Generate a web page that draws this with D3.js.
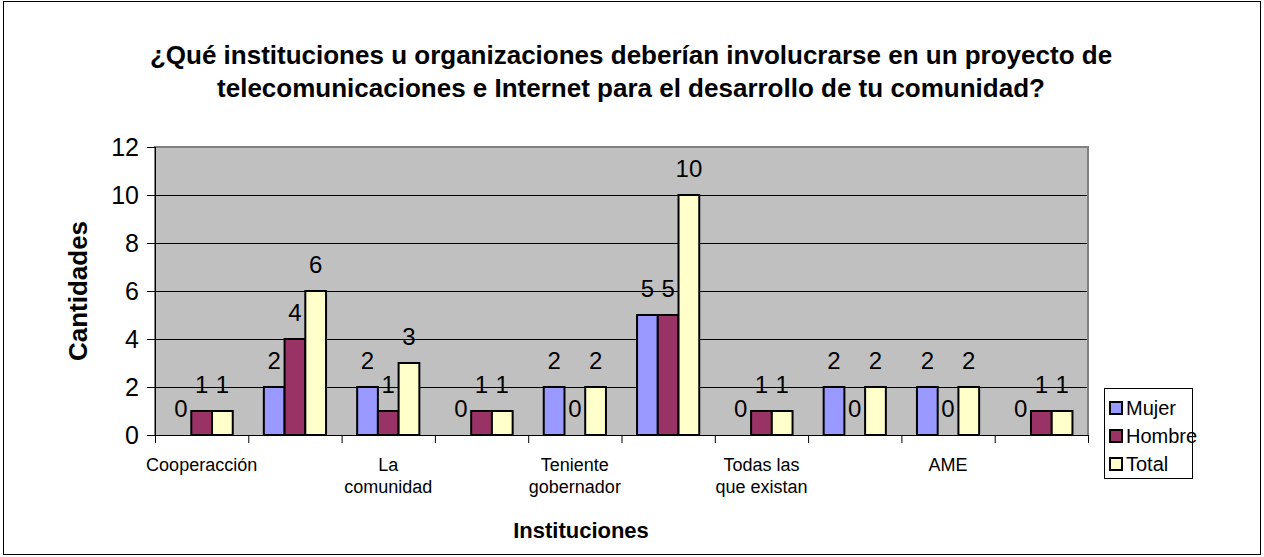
<!DOCTYPE html>
<html>
<head>
<meta charset="utf-8">
<script src="https://cdn.jsdelivr.net/npm/d3@7"></script>
<style>
  body { margin: 0; background: #fff; }
  svg text { font-family: Arial, "Liberation Sans", sans-serif; fill: #000; }
</style>
</head>
<body>
<div id="chart"></div>
<script>
// categories (only every other one gets a visible label, like the original)
var categories = ["Cooperacción", "", "La\ncomunidad", "", "Teniente\ngobernador", "",
  "Todas las\nque existan", "", "AME", ""];
var series = ["Mujer", "Hombre", "Total"];
var mujer = [0, 2, 2, 0, 2, 5, 0, 2, 2, 0];
var hombre = [1, 4, 1, 1, 0, 5, 1, 0, 0, 1];
var total = [1, 6, 3, 1, 2, 10, 1, 2, 2, 1];
var yTicks = [0, 2, 4, 6, 8, 10, 12];
var colors = ["#9999FF", "#993366", "#FFFFCC"];

var w = 1264, h = 557;
var m = { left: 155, right: 1088, top: 147, bottom: 435 };

var svg = d3.select("#chart").append("svg")
  .attr("width", w)
  .attr("height", h);

// chart border
svg.append("rect")
  .attr("x", 3.5).attr("y", 1.5)
  .attr("width", 1257).attr("height", 553)
  .attr("fill", "#fff")
  .attr("stroke", "#000");

var x = d3.scaleBand()
  .domain(d3.range(categories.length))
  .range([m.left, m.right]);

var x1 = d3.scaleBand()
  .domain(series)
  .range([0, x.bandwidth()])
  .paddingOuter(0.75);

var y = d3.scaleLinear()
  .domain([0, 12])
  .range([m.bottom, m.top]);

// plot area
svg.append("rect")
  .attr("x", m.left).attr("y", m.top)
  .attr("width", m.right - m.left).attr("height", m.bottom - m.top)
  .attr("fill", "#C0C0C0");

svg.append("g")
  .selectAll("line")
  .data(yTicks.filter(function(d) { return d > 0 && d < 12; }))
  .enter().append("line")
  .attr("x1", m.left).attr("x2", m.right)
  .attr("y1", function(d) { return y(d) + 0.5; })
  .attr("y2", function(d) { return y(d) + 0.5; })
  .attr("stroke", "#000");

// plot border (gray)
svg.append("path")
  .attr("d", "M" + m.left + "," + m.bottom + "V" + m.top + "H" + m.right + "V" + m.bottom)
  .attr("fill", "none")
  .attr("stroke", "#808080")
  .attr("stroke-width", 2);

// bars
var rows = categories.map(function(c, i) {
  return [
    { s: "Mujer", v: mujer[i], k: 0 },
    { s: "Hombre", v: hombre[i], k: 1 },
    { s: "Total", v: total[i], k: 2 }
  ];
});

var groups = svg.append("g")
  .selectAll("g")
  .data(rows)
  .enter().append("g")
  .attr("transform", function(d, i) { return "translate(" + x(i) + ",0)"; });

groups.selectAll("rect")
  .data(function(d) { return d.filter(function(b) { return b.v > 0; }); })
  .enter().append("rect")
  .attr("x", function(d) { return x1(d.s); })
  .attr("y", function(d) { return y(d.v); })
  .attr("width", x1.bandwidth())
  .attr("height", function(d) { return y(0) - y(d.v); })
  .attr("fill", function(d) { return colors[d.k]; })
  .attr("stroke", "#000")
  .attr("stroke-width", 2);

groups.selectAll("text")
  .data(function(d) { return d; })
  .enter().append("text")
  .attr("x", function(d) { return x1(d.s) + x1.bandwidth() / 2; })
  .attr("y", function(d) { return y(d.v) - 18; })
  .attr("text-anchor", "middle")
  .style("font-size", "24px")
  .text(function(d) { return d.v; });

// y axis
var yAxis = svg.append("g");
yAxis.append("line")
  .attr("x1", m.left + 0.5).attr("x2", m.left + 0.5)
  .attr("y1", m.top).attr("y2", m.bottom)
  .attr("stroke", "#000");
yAxis.selectAll("line.tick")
  .data(yTicks)
  .enter().append("line")
  .attr("class", "tick")
  .attr("x1", m.left - 8).attr("x2", m.left)
  .attr("y1", function(d) { return y(d) + 0.5; })
  .attr("y2", function(d) { return y(d) + 0.5; })
  .attr("stroke", "#000");
yAxis.selectAll("text")
  .data(yTicks)
  .enter().append("text")
  .attr("x", 139)
  .attr("y", function(d) { return y(d); })
  .attr("dy", "0.36em")
  .attr("text-anchor", "end")
  .style("font-size", "25px")
  .text(function(d) { return d; });

// x axis
var xAxis = svg.append("g");
xAxis.append("line")
  .attr("x1", m.left).attr("x2", m.right)
  .attr("y1", m.bottom + 0.5).attr("y2", m.bottom + 0.5)
  .attr("stroke", "#000");
xAxis.selectAll("line.tick")
  .data(d3.range(categories.length + 1))
  .enter().append("line")
  .attr("class", "tick")
  .attr("x1", function(i) { return m.left + i * x.step() + 0.5; })
  .attr("x2", function(i) { return m.left + i * x.step() + 0.5; })
  .attr("y1", m.bottom).attr("y2", m.bottom + 8)
  .attr("stroke", "#000");

var catText = xAxis.selectAll("text")
  .data(categories)
  .enter().append("text")
  .attr("text-anchor", "middle")
  .style("font-size", "18px");
catText.each(function(d, i) {
  var t = d3.select(this);
  d.split("\n").forEach(function(line, j) {
    t.append("tspan")
      .attr("x", x(i) + x.bandwidth() / 2)
      .attr("y", 471 + j * 22)
      .text(line);
  });
});

// titles
var title = svg.append("text")
  .attr("text-anchor", "middle")
  .style("font-size", "26px")
  .style("font-weight", "bold");
title.append("tspan").attr("x", 631).attr("y", 64)
  .text("¿Qué instituciones u organizaciones deberían involucrarse en un proyecto de");
title.append("tspan").attr("x", 631).attr("y", 97)
  .text("telecomunicaciones e Internet para el desarrollo de tu comunidad?");

svg.append("text")
  .attr("x", 581)
  .attr("y", 538)
  .attr("text-anchor", "middle")
  .style("font-size", "22px")
  .style("font-weight", "bold")
  .text("Instituciones");

svg.append("text")
  .attr("transform", "translate(87," + ((m.top + m.bottom) / 2) + ") rotate(-90)")
  .attr("text-anchor", "middle")
  .style("font-size", "26px")
  .style("font-weight", "bold")
  .text("Cantidades");

// legend
var legend = svg.append("g").attr("transform", "translate(1104,388)");
legend.append("rect")
  .attr("x", 0.5).attr("y", 0.5)
  .attr("width", 88).attr("height", 90)
  .attr("fill", "#fff")
  .attr("stroke", "#000");
var items = legend.selectAll("g")
  .data(series)
  .enter().append("g")
  .attr("transform", function(d, i) { return "translate(0," + (20 + i * 28) + ")"; });
items.append("rect")
  .attr("x", 6).attr("y", -6)
  .attr("width", 12).attr("height", 12)
  .attr("fill", function(d, i) { return colors[i]; })
  .attr("stroke", "#000")
  .attr("stroke-width", 2);
items.append("text")
  .attr("x", 22)
  .attr("dy", "0.36em")
  .style("font-size", "20px")
  .text(function(d) { return d; });
</script>
</body>
</html>
